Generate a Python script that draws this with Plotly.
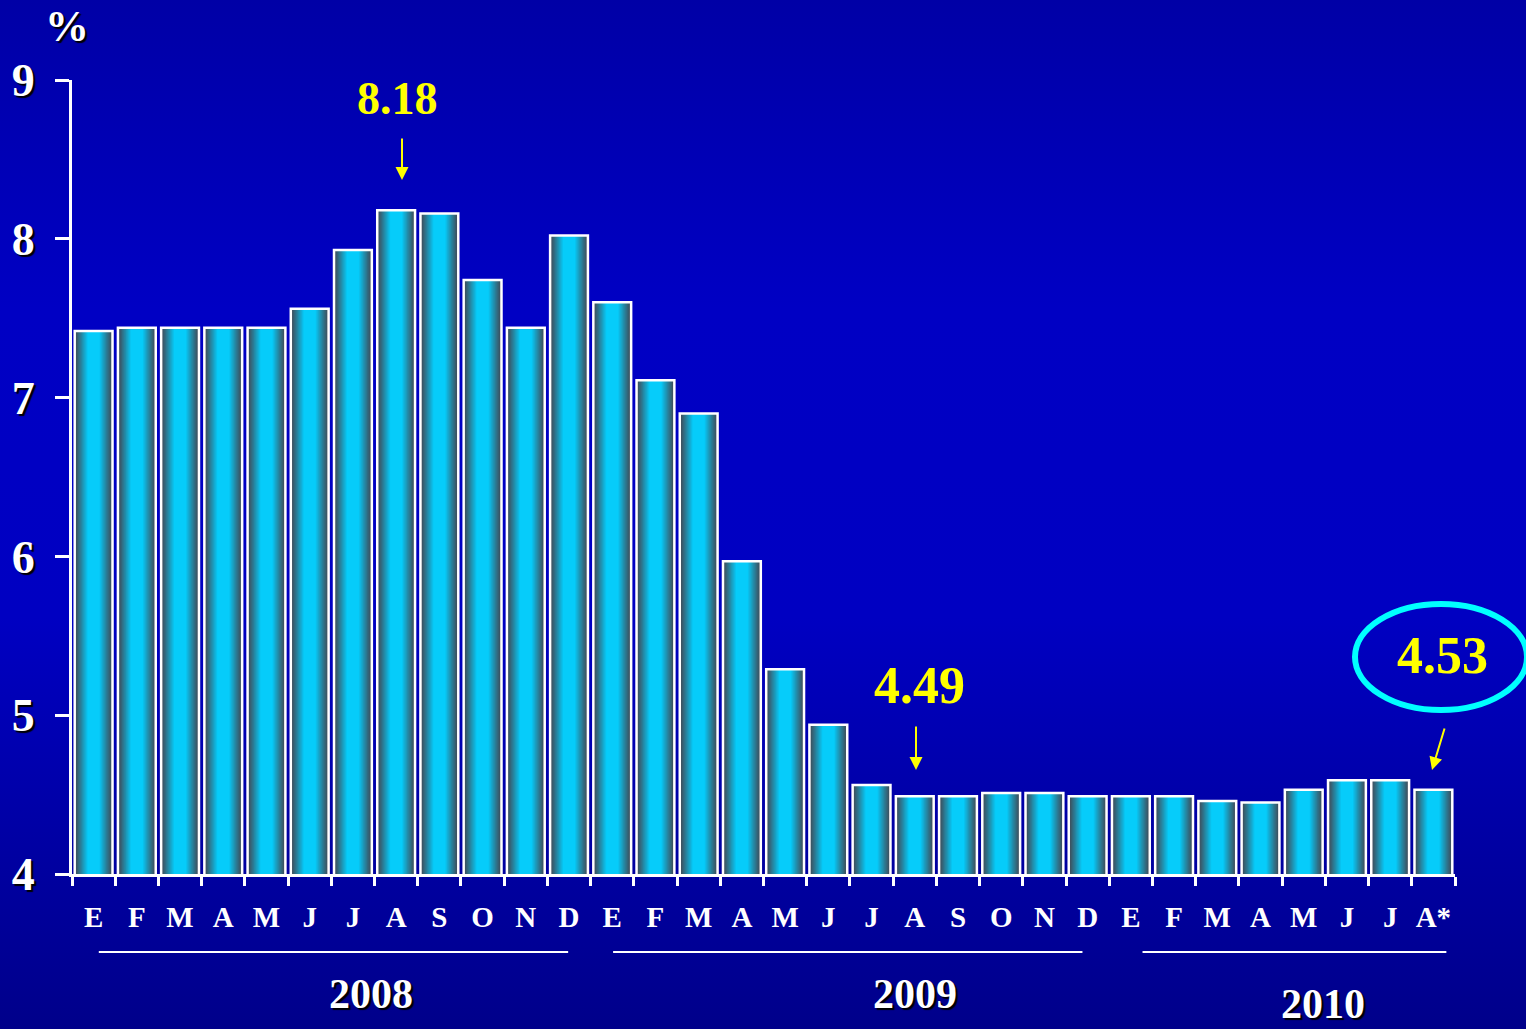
import base64
import plotly.graph_objects as go

# ---------------- data ----------------
months = ["E", "F", "M", "A", "M", "J", "J", "A", "S", "O", "N", "D",
          "E", "F", "M", "A", "M", "J", "J", "A", "S", "O", "N", "D",
          "E", "F", "M", "A", "M", "J", "J", "A*"]
values = [7.42, 7.44, 7.44, 7.44, 7.44, 7.56, 7.93, 8.18, 8.16, 7.74, 7.44, 8.02,
          7.60, 7.11, 6.90, 5.97, 5.29, 4.94, 4.56, 4.49, 4.49, 4.51, 4.51, 4.49,
          4.49, 4.49, 4.46, 4.45, 4.53, 4.59, 4.59, 4.53]
years = ["2008", "2009", "2010"]
y_ticks = [4, 5, 6, 7, 8, 9]
highlights = [(7, "8.18"), (19, "4.49"), (31, "4.53")]

# ---------------- geometry ----------------
W, H = 1526, 1029
ML, MR, MT, MB = 72, 71, 80, 155
PW, PH = W - ML - MR, H - MT - MB
x_idx = list(range(len(values)))

def px_y(py):  # pixel y -> paper y
    return 1 - (py - MT) / PH

def px_x(px):
    return (px - ML) / PW

fig = go.Figure()

# layered bars to simulate horizontal gradient
BW = 0.875
N = 16
def lerp(c1, c2, t):
    return tuple(int(round(a + (b - a) * t)) for a, b in zip(c1, c2))
edge = (66, 74, 86)
core = (6, 204, 250)
for k in range(N + 1):
    t = k / N
    w = BW * (1 - 0.68 * t)
    tt = t ** 1.1
    c = lerp(edge, core, tt)
    fig.add_trace(go.Bar(
        x=x_idx, y=values, width=w, base=0,
        marker=dict(color="rgb(%d,%d,%d)" % c, line=dict(width=0)),
        hoverinfo="skip", showlegend=False))
# outline
fig.add_trace(go.Bar(
    x=x_idx, y=values, width=BW,
    marker=dict(color="rgba(0,0,0,0)", line=dict(color="white", width=2.5)),
    customdata=months, hovertemplate="%{customdata}: %{y}%<extra></extra>",
    showlegend=False))

# background gradient image (svg)
svg = ('<svg xmlns="http://www.w3.org/2000/svg" width="%d" height="%d">'
       '<defs><linearGradient id="g" x1="0" y1="0" x2="0" y2="1">'
       '<stop offset="0" stop-color="#0000A6"/>'
       '<stop offset="0.3" stop-color="#0000C4"/>'
       '<stop offset="0.6" stop-color="#0000C2"/>'
       '<stop offset="1" stop-color="#00008A"/>'
       '</linearGradient></defs>'
       '<rect width="100%%" height="100%%" fill="url(#g)"/></svg>') % (W, H)
src = "data:image/svg+xml;base64," + base64.b64encode(svg.encode()).decode()

serif = "Liberation Serif"
shadow = "2px 2px 1px black"

annotations = []
# % label
annotations.append(dict(text="%", xref="paper", yref="paper",
                        x=px_x(67), y=px_y(26), showarrow=False,
                        xanchor="center", yanchor="middle",
                        font=dict(family=serif, size=44, color="white",
                                  weight="bold", shadow=shadow)))
# highlight value labels with arrows
label_pos = {7: (397, 99, 46, 402, 137, 402, 180),
             19: (920, 685, 52, 916, 725, 916, 770),
             31: (1442, 655, 52, 1445, 727, 1432, 770)}
for idx, txt in highlights:
    lx, ly, fs, ax0, ay0, ax1, ay1 = label_pos[idx]
    annotations.append(dict(text=txt, xref="paper", yref="paper",
                            x=px_x(lx), y=px_y(ly), showarrow=False,
                            xanchor="center", yanchor="middle",
                            font=dict(family=serif, size=fs, color="#FFFF00",
                                      weight="bold")))
    annotations.append(dict(text="", xref="paper", yref="paper",
                            x=px_x(ax1), y=px_y(ay1),
                            axref="pixel", ayref="pixel",
                            ax=ax0 - ax1, ay=ay0 - ay1,
                            showarrow=True, arrowhead=2, arrowsize=1.3,
                            arrowwidth=2, arrowcolor="#FFFF00"))

# year labels
year_pos = [(6.42, 994), (19.0, 994), (28.45, 1004)]
for yr, (xc, py) in zip(years, year_pos):
    annotations.append(dict(text=yr, xref="x", yref="paper", x=xc, y=px_y(py),
                            showarrow=False, xanchor="center", yanchor="middle",
                            font=dict(family=serif, size=42, color="white",
                                      weight="bold", shadow=shadow)))

shapes = []
year_lines = [(0.12, 10.98), (12.02, 22.88), (24.27, 31.3)]
for x0, x1 in year_lines:
    shapes.append(dict(type="line", xref="x", yref="paper",
                       x0=x0, x1=x1, y0=px_y(952), y1=px_y(952),
                       line=dict(color="white", width=2)))
# ellipse
shapes.append(dict(type="circle", xref="paper", yref="paper",
                   x0=px_x(1355), x1=px_x(1527), y0=px_y(604), y1=px_y(710),
                   line=dict(color="#00FFFF", width=6)))

fig.update_layout(
    width=W, height=H,
    margin=dict(l=ML, r=MR, t=MT, b=MB, pad=0, autoexpand=False),
    barmode="overlay",
    paper_bgcolor="#0000B0",
    plot_bgcolor="rgba(0,0,0,0)",
    images=[dict(source=src, xref="paper", yref="paper",
                 x=-ML / PW, y=1 + MT / PH, sizex=W / PW, sizey=H / PH,
                 xanchor="left", yanchor="top", sizing="stretch",
                 layer="below")],
    annotations=annotations,
    shapes=shapes,
    showlegend=False,
    xaxis=dict(range=[-0.5, len(values) - 0.5], tickmode="array",
               tickvals=x_idx, ticktext=months, ticks="", automargin=False,
               showline=True, linecolor="white", linewidth=3,
               showgrid=False, zeroline=False, ticklabelstandoff=15,
               tickfont=dict(family=serif, size=29, color="white",
                             weight="bold"),
               minor=dict(tickmode="array",
                          tickvals=[i - 0.5 for i in range(len(values) + 1)],
                          ticks="outside", ticklen=9, tickwidth=3,
                          tickcolor="white", showgrid=False)),
    yaxis=dict(range=[4, 9], tickmode="array", tickvals=y_ticks,
               ticks="outside", ticklen=14, tickwidth=3, tickcolor="white",
               showline=True, linecolor="white", linewidth=3, automargin=False,
               showgrid=False, zeroline=False, ticklabelstandoff=11,
               tickfont=dict(family=serif, size=46, color="white",
                             weight="bold", shadow=shadow)),
)

fig.write_html("out.html", config={"displayModeBar": False},
               post_script="document.body.style.margin='0';"
                           "document.body.style.overflow='hidden';")
